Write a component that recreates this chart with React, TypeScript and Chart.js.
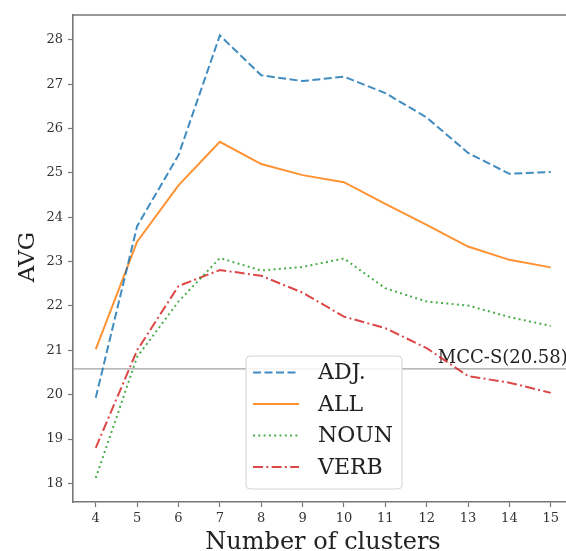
import React, { useEffect, useRef } from "react";
import { Chart, registerables } from "chart.js";

Chart.register(...registerables);

const clusters = [4, 5, 6, 7, 8, 9, 10, 11, 12, 13, 14, 15];
const adj = [19.93, 23.8, 25.4, 28.1, 27.2, 27.07, 27.17, 26.8, 26.25, 25.45, 24.98, 25.02];
const all = [21.02, 23.45, 24.72, 25.7, 25.2, 24.95, 24.79, 24.3, 23.83, 23.34, 23.04, 22.87];
const noun = [18.12, 20.85, 22.1, 23.08, 22.8, 22.88, 23.07, 22.4, 22.1, 22.01, 21.75, 21.55];
const verb = [18.8, 21.0, 22.45, 22.81, 22.68, 22.3, 21.76, 21.5, 21.05, 20.42, 20.27, 20.04];
const seriesNames = ["ADJ.", "ALL", "NOUN", "VERB"];
const yTicks = [18, 19, 20, 21, 22, 23, 24, 25, 26, 27, 28];
const baselineValue = 20.58;
const baselineLabel = "MCC-S(20.58)";
const xTitle = "Number of clusters";
const yTitle = "AVG";

const SERIF = "'DejaVu Serif', serif";
const colors = [
  "rgba(31,119,180,0.85)",
  "rgba(255,127,14,0.85)",
  "rgba(44,160,44,0.85)",
  "rgba(214,39,40,0.85)",
];
const dashes = [[8, 3.5], [], [2, 3.3], [10, 3.3, 2, 3.3]];

export default function App() {
  const ref = useRef<HTMLCanvasElement | null>(null);
  useEffect(() => {
    if (!ref.current) return;
    const values = [adj, all, noun, verb];
    const datasets = values.map((vals, i) => ({
      label: seriesNames[i],
      data: vals.map((v, j) => ({ x: clusters[j], y: v })),
      borderColor: colors[i],
      backgroundColor: colors[i],
      borderWidth: 2,
      borderDash: dashes[i],
      pointRadius: 0,
      tension: 0,
      fill: false,
    }));

    const overlay = {
      id: "overlay",
      beforeDatasetsDraw(chart: any) {
        const { ctx, chartArea, scales } = chart;
        const y = scales.y.getPixelForValue(baselineValue);
        ctx.save();
        ctx.strokeStyle = "rgba(150,150,150,0.9)";
        ctx.lineWidth = 1.2;
        ctx.beginPath();
        ctx.moveTo(chartArea.left, y);
        ctx.lineTo(chartArea.right, y);
        ctx.stroke();
        ctx.fillStyle = "#222";
        ctx.font = `18px ${SERIF}`;
        ctx.textBaseline = "alphabetic";
        ctx.textAlign = "left";
        ctx.fillText(baselineLabel, scales.x.getPixelForValue(12.27), y - 6);
        ctx.restore();
      },
      afterDraw(chart: any) {
        const { ctx, chartArea } = chart;
        ctx.save();
        ctx.strokeStyle = "#777";
        ctx.lineWidth = 1.6;
        ctx.beginPath();
        ctx.moveTo(chartArea.left, chartArea.top);
        ctx.lineTo(chartArea.right, chartArea.top);
        ctx.lineTo(chartArea.right, chartArea.bottom);
        ctx.stroke();

        const lx = 246, ly = 356, lw = 156, lh = 133;
        ctx.fillStyle = "rgba(255,255,255,0.85)";
        ctx.strokeStyle = "rgba(210,210,210,1)";
        ctx.lineWidth = 1;
        const r = 4;
        ctx.beginPath();
        ctx.moveTo(lx + r, ly);
        ctx.lineTo(lx + lw - r, ly);
        ctx.arcTo(lx + lw, ly, lx + lw, ly + r, r);
        ctx.lineTo(lx + lw, ly + lh - r);
        ctx.arcTo(lx + lw, ly + lh, lx + lw - r, ly + lh, r);
        ctx.lineTo(lx + r, ly + lh);
        ctx.arcTo(lx, ly + lh, lx, ly + lh - r, r);
        ctx.lineTo(lx, ly + r);
        ctx.arcTo(lx, ly, lx + r, ly, r);
        ctx.closePath();
        ctx.fill();
        ctx.stroke();
        const rows = [372.5, 404, 435.5, 467];
        chart.data.datasets.forEach((ds: any, i: number) => {
          const cy = rows[i];
          ctx.strokeStyle = ds.borderColor;
          ctx.lineWidth = 2;
          ctx.setLineDash(ds.borderDash);
          ctx.beginPath();
          ctx.moveTo(253, cy);
          ctx.lineTo(299, cy);
          ctx.stroke();
          ctx.setLineDash([]);
          ctx.fillStyle = "#222";
          ctx.font = `22px ${SERIF}`;
          ctx.textBaseline = "middle";
          ctx.textAlign = "left";
          ctx.fillText(ds.label, 318, cy + 1);
        });

        ctx.fillStyle = "#222";
        ctx.font = `24px ${SERIF}`;
        ctx.textAlign = "center";
        ctx.textBaseline = "alphabetic";
        ctx.fillText(xTitle, 323, 549);
        ctx.font = `23px ${SERIF}`;
        ctx.translate(34, 257);
        ctx.rotate(-Math.PI / 2);
        ctx.fillText(yTitle, 0, 0);
        ctx.restore();
      },
    };

    const chart = new Chart(ref.current, {
      type: "line",
      data: { datasets },
      options: {
        animation: false,
        responsive: false,
        maintainAspectRatio: false,
        layout: { padding: { top: 15, right: 26.5, left: 0, bottom: 0 } },
        plugins: { legend: { display: false }, tooltip: { enabled: false } },
        scales: {
          x: {
            type: "linear",
            min: 3.45,
            max: 15.55,
            afterFit: (s: any) => { s.height = 49; },
            afterBuildTicks: (s: any) => { s.ticks = clusters.map((v) => ({ value: v })); },
            grid: { drawOnChartArea: false, drawTicks: true, tickLength: 5, tickColor: "#777", tickWidth: 1.2 },
            border: { display: true, color: "#777", width: 1.6 },
            ticks: { color: "#333", font: { family: SERIF, size: 13 }, padding: 4, autoSkip: false, maxRotation: 0 },
          },
          y: {
            type: "linear",
            min: 17.58,
            max: 28.56,
            afterFit: (s: any) => { s.width = 73; },
            afterBuildTicks: (s: any) => { s.ticks = yTicks.map((v) => ({ value: v })); },
            grid: { drawOnChartArea: false, drawTicks: true, tickLength: 5, tickColor: "#777", tickWidth: 1.2 },
            border: { display: true, color: "#777", width: 1.6 },
            ticks: { color: "#333", font: { family: SERIF, size: 13 }, padding: 5, autoSkip: false },
          },
        },
      },
      plugins: [overlay],
    });
    return () => chart.destroy();
  }, []);

  return (
    <div style={{ position: "fixed", left: 0, top: 0, width: 566, height: 551, overflow: "hidden", background: "#fff" }}>
      <canvas ref={ref} width={600} height={551} style={{ width: 600, height: 551, display: "block" }} />
    </div>
  );
}
